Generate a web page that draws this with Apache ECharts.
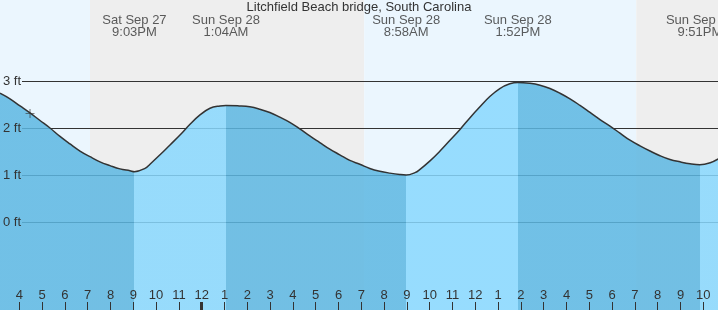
<!DOCTYPE html>
<html><head><meta charset="utf-8">
<script src="https://cdn.jsdelivr.net/npm/echarts@6/dist/echarts.min.js"></script>
<style>html,body{margin:0;padding:0;background:#fff}#c{width:718px;height:310px}</style>
</head><body><div id="c"></div>
<script>
// hours counted from Sat Sep 27 00:00
const tideHours = [15.153,15.592,16.031,16.469,16.908,17.346,17.785,18.224,18.662,19.101,19.539,19.978,20.417,20.855,21.05,
  21.514,21.732,22.171,22.610,23.048,23.487,23.925,24.364,24.803,25.0667,25.627,26.110,26.548,26.987,27.425,27.864,28.303,
  28.741,29.180,29.618,30.057,30.496,30.934,31.373,31.811,32.250,32.689,32.9667,33.355,33.575,34.013,34.452,34.890,35.329,
  35.768,36.162,36.636,37.075,37.513,37.8667,38.399,38.838,39.276,39.715,40.154,40.592,41.031,41.469,41.908,42.346,42.785,
  43.224,43.662,44.101,44.539,44.978,45.417,45.85,46.303,46.654];
const tideFeet  = [2.74,2.62,2.47,2.32,2.16,2.00,1.82,1.66,1.51,1.39,1.28,1.20,1.13,1.09,1.07,
  1.14,1.23,1.43,1.64,1.85,2.08,2.28,2.42,2.47,2.48,2.47,2.45,2.40,2.33,2.23,2.12,1.98,
  1.83,1.69,1.55,1.43,1.31,1.23,1.14,1.08,1.04,1.01,1.00,1.05,1.12,1.30,1.51,1.74,1.97,
  2.22,2.43,2.67,2.84,2.94,2.97,2.95,2.91,2.84,2.74,2.62,2.48,2.33,2.18,2.04,1.89,1.74,
  1.62,1.51,1.41,1.33,1.28,1.24,1.22,1.26,1.34];
const extremeHours = [21.05,25.0667,32.9667,37.8667,45.85];
const extremeDays  = ['Sat Sep 27','Sun Sep 28','Sun Sep 28','Sun Sep 28','Sun Sep 28'];
const extremeTimes = ['9:03PM','1:04AM','8:58AM','1:52PM','9:51PM'];
const extremeTypes = ['low','high','low','high','low'];
const nightStart = [19.1,43.06];
const nightEnd   = [31.125,47];
const nowHour = 16.47, nowFeet = 2.31;
const midnightHours = [24];

const X_MIN = 15, X_MAX = 47, Y_MIN = -1.872, Y_MAX = 4.723, LABEL_Y = 4.17;
const DARK = '#5cb7e2', LIGHT = '#88d8fe';

const tideData = tideHours.map((h,i)=>[h,tideFeet[i]]);
const pieces = [];
let prev = null;
extremeHours.forEach((h,i)=>{
  const p = {lt:h, color: extremeTypes[i]==='low' ? DARK : LIGHT};
  if (prev!==null) p.gte = prev;
  pieces.push(p); prev = h;
});
pieces.push({gte:prev, color: extremeTypes[extremeTypes.length-1]==='low' ? LIGHT : DARK});

const bands = [];
bands.push([{xAxis:X_MIN, itemStyle:{color:'#ebf6fe'}},{xAxis:nightStart[0]}]);
nightStart.forEach((s,i)=>{
  bands.push([{xAxis:s, itemStyle:{color:'#eeeeee'}},{xAxis:nightEnd[i]}]);
  if (i<nightStart.length-1) bands.push([{xAxis:nightEnd[i], itemStyle:{color:'#ebf6fe'}},{xAxis:nightStart[i+1]}]);
});

const font = 'Liberation Sans, Arial, sans-serif';
const chart = echarts.init(document.getElementById('c'));
chart.setOption({
  animation:false,
  backgroundColor:'#fff',
  textStyle:{fontFamily:font},
  title:{text:'Litchfield Beach bridge, South Carolina', left:'center', top:1, padding:0,
    textStyle:{fontSize:13, fontWeight:'normal', color:'#333', fontFamily:font}},
  grid:[
    {left:22, right:0, top:81, bottom:88, outerBoundsMode:'none', containLabel:false},
    {left:-3.5, right:-8.1, top:0, bottom:0, outerBoundsMode:'none', containLabel:false}
  ],
  xAxis:[
    {gridIndex:0, type:'value', min:X_MIN, max:X_MAX, show:false},
    {gridIndex:1, type:'value', min:X_MIN, max:X_MAX, interval:1, z:10, position:'bottom',
      axisLine:{show:false, onZero:false}, splitLine:{show:false},
      axisTick:{show:true, inside:true, length:8, lineStyle:{color:'#333', width:1}},
      axisLabel:{inside:true, margin:8, color:'#333', fontSize:13, fontFamily:font,
        formatter:v=>String((Math.round(v)%12)||12)}},
    {gridIndex:1, type:'value', min:X_MIN, max:X_MAX, position:'bottom', z:10,
      axisLine:{show:false, onZero:false}, splitLine:{show:false}, axisLabel:{show:false},
      axisTick:{show:true, inside:true, length:8, customValues:midnightHours, lineStyle:{color:'#333', width:3}}}
  ],
  yAxis:[
    {gridIndex:0, type:'value', min:0, max:3, interval:1, z:3,
      axisLine:{show:false}, axisTick:{show:false}, axisLabel:{show:false},
      splitLine:{show:true, lineStyle:{color:'#333', width:1}}},
    {gridIndex:0, type:'value', min:0, max:3, interval:1, z:10, position:'left',
      axisLine:{show:false}, axisTick:{show:false}, splitLine:{show:false},
      axisLabel:{margin:1, color:'#333', fontSize:13, fontFamily:font, formatter:'{value} ft'}},
    {gridIndex:1, type:'value', min:Y_MIN, max:Y_MAX, show:false}
  ],
  visualMap:[{show:false, type:'piecewise', dimension:0, seriesIndex:1, pieces:pieces}],
  series:[
    {type:'line', xAxisIndex:1, yAxisIndex:2, data:[], z:1, silent:true,
      markArea:{silent:true, z:1, data:bands}},
    {type:'line', xAxisIndex:1, yAxisIndex:2, data:tideData, z:4, smooth:0.4, symbol:'none',
      lineStyle:{width:0}, areaStyle:{origin:'start', opacity:0.85}},
    {type:'line', xAxisIndex:1, yAxisIndex:2, data:tideData, z:5, smooth:0.4, symbol:'none',
      lineStyle:{color:'#333', width:1.5}},
    {type:'scatter', xAxisIndex:1, yAxisIndex:2, z:6, data:[[nowHour,nowFeet]],
      symbol:'path://M5,0H6V5H11V6H6V11H5V6H0V5H5Z', symbolSize:9, itemStyle:{color:'#333'}},
    {type:'scatter', xAxisIndex:1, yAxisIndex:2, z:6, symbolSize:1, itemStyle:{color:'transparent'},
      data:extremeHours.map(h=>[h,LABEL_Y]),
      label:{show:true, position:'inside', color:'#333', fontSize:13, lineHeight:12, fontFamily:font,
        formatter:p=>extremeDays[p.dataIndex]+'\n'+extremeTimes[p.dataIndex]}}
  ]
});
</script></body></html>
